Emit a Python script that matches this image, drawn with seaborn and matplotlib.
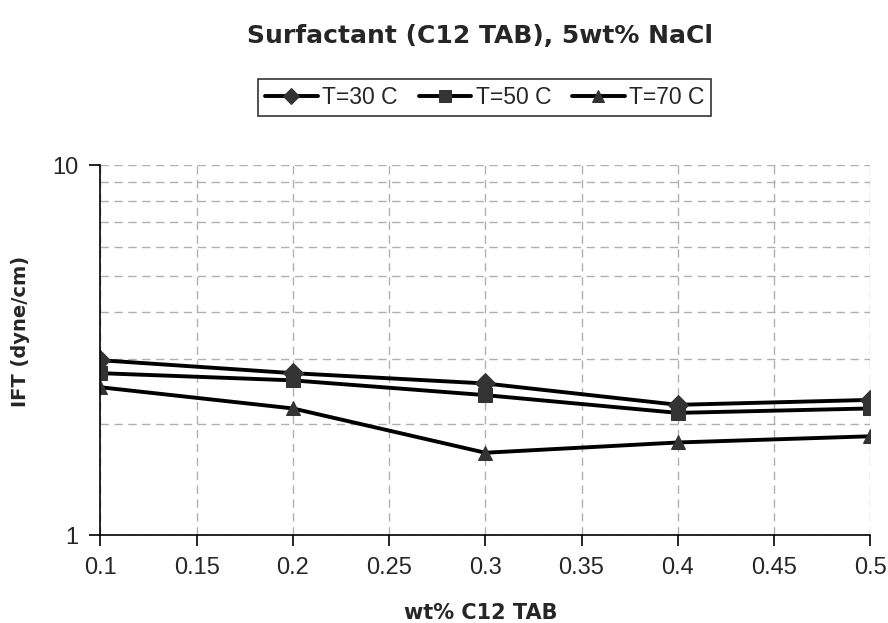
import matplotlib
matplotlib.use("Agg")
import matplotlib.pyplot as plt
import matplotlib.ticker as mticker
import pandas as pd
import seaborn as sns

sns.set_theme(style="white")
plt.rcParams["font.family"] = ["Liberation Sans", "DejaVu Sans"]

# data
wt_pct = [0.1, 0.2, 0.3, 0.4, 0.5]
ift_30 = [2.97, 2.74, 2.57, 2.25, 2.32]
ift_50 = [2.74, 2.62, 2.39, 2.14, 2.20]
ift_70 = [2.51, 2.20, 1.67, 1.78, 1.85]
series_labels = ["T=30 C", "T=50 C", "T=70 C"]

df = pd.DataFrame({
    "wt": wt_pct * 3,
    "ift": ift_30 + ift_50 + ift_70,
    "series": [s for s in series_labels for _ in wt_pct],
})

fig = plt.figure(figsize=(8.88, 6.23), dpi=100)
ax = fig.add_axes([0.113, 0.141, 0.867, 0.594])

sns.lineplot(
    data=df, x="wt", y="ift", hue="series", style="series",
    palette=["black"] * 3,
    markers={"T=30 C": "D", "T=50 C": "s", "T=70 C": "^"},
    dashes=False, linewidth=2.8, markersize=10,
    markerfacecolor="#333333", markeredgecolor="#333333",
    ax=ax, legend=True,
)

ax.set_yscale("log")
ax.set_ylim(1, 10)
ax.set_xlim(0.1, 0.5)
ax.xaxis.set_major_locator(mticker.MultipleLocator(0.05))
ax.xaxis.set_major_formatter(mticker.FuncFormatter(lambda v, p: f"{v:g}"))
ax.yaxis.set_major_locator(mticker.FixedLocator([1, 10]))
ax.yaxis.set_major_formatter(mticker.FuncFormatter(lambda v, p: f"{v:g}"))
ax.yaxis.set_minor_locator(mticker.LogLocator(base=10, subs=range(2, 10)))
ax.yaxis.set_minor_formatter(mticker.NullFormatter())

ax.grid(True, which="major", axis="x", color="#b0b0b0", linestyle=(0, (6, 4)), linewidth=1)
ax.grid(True, which="both", axis="y", color="#b0b0b0", linestyle=(0, (6, 4)), linewidth=1)
ax.set_axisbelow(True)

for side in ["top", "right"]:
    ax.spines[side].set_visible(False)
for side in ["left", "bottom"]:
    ax.spines[side].set_color("black")
    ax.spines[side].set_linewidth(1.2)

ax.tick_params(axis="both", which="major", labelsize=17, length=8, width=1.2,
               direction="out", left=True, bottom=True, color="black", pad=8)
ax.tick_params(axis="y", which="minor", length=0)

ax.set_xlabel("wt% C12 TAB", fontsize=15, fontweight="bold", family="DejaVu Sans")
ax.set_ylabel("IFT (dyne/cm)", fontsize=14, fontweight="bold", family="DejaVu Sans")
ax.xaxis.set_label_coords(0.494, -0.182)
ax.yaxis.set_label_coords(-0.092, 0.55)
fig.suptitle("Surfactant (C12 TAB), 5wt% NaCl", fontsize=18, fontweight="bold",
             family="DejaVu Sans", x=0.54, y=0.962)

handles, labels = ax.get_legend_handles_labels()
for h in handles:
    h.set_markersize(8)
ax.legend(handles, labels, ncol=3, loc="center", bbox_to_anchor=(0.546, 0.843),
          bbox_transform=fig.transFigure, frameon=True, fancybox=False,
          edgecolor="black", fontsize=16.5, handlelength=2.3, columnspacing=0.9,
          handletextpad=0.2, borderpad=0.3)
ax.get_legend().get_frame().set_linewidth(1.2)

fig.savefig("out.png", dpi=100)
